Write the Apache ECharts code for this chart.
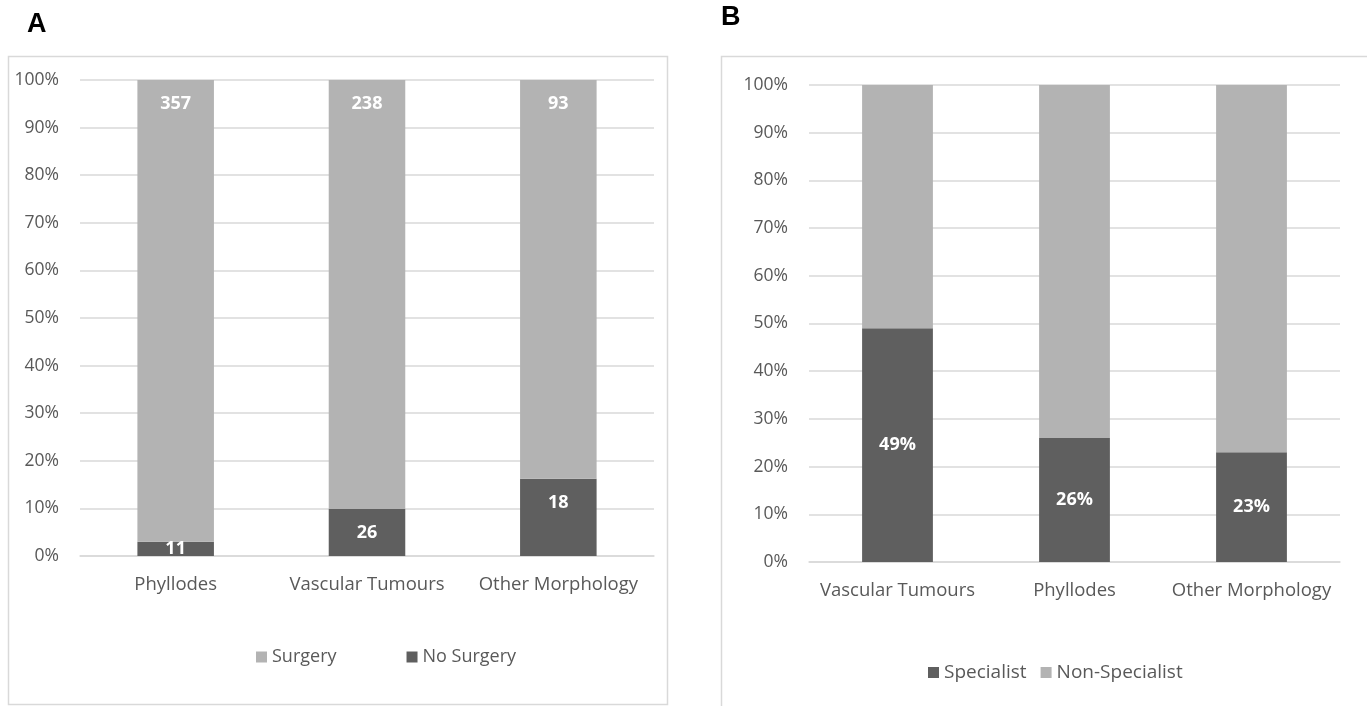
<!DOCTYPE html>
<html>
<head>
<meta charset="utf-8">
<script src="https://cdn.jsdelivr.net/npm/echarts@6/dist/echarts.min.js"></script>
<style>
  html, body { margin: 0; padding: 0; background: #fff; }
  #chart { width: 1367px; height: 706px; }
</style>
</head>
<body>
<div id="chart"></div>
<script>
// Panel A: patient counts by morphology, surgery vs no surgery
const categoriesA = ['Phyllodes', 'Vascular Tumours', 'Other Morphology'];
const surgeryCounts = [357, 238, 93];
const noSurgeryCounts = [11, 26, 18];

// Panel B: share of cases (%) treated at specialist vs non-specialist centres
const categoriesB = ['Vascular Tumours', 'Phyllodes', 'Other Morphology'];
const specialistPct = [49, 26, 23];
const nonSpecialistPct = [51, 74, 77];

const FONT = '"Open Sans", "Noto Sans", sans-serif';
const DARK = '#5f5f5f';
const LIGHT = '#b3b3b3';
const TEXT = '#595959';
const GRID = '#d9d9d9';

// 100% stacking for panel A: each segment is its count over the column total
const totalsA = surgeryCounts.map((v, i) => v + noSurgeryCounts[i]);
const shareData = (counts) => counts.map((v, i) => ({ value: v / totalsA[i] * 100, count: v }));

const noSurgeryData = shareData(noSurgeryCounts).map(d => {
  // a thin segment gets its label centred rather than hung from the top
  if (d.value < 6) d.label = { position: 'inside' };
  return d;
});

const valueAxisBase = {
  type: 'value', min: 0, max: 100, interval: 10,
  axisLine: { show: false }, axisTick: { show: false },
  splitLine: { lineStyle: { color: GRID, width: 1.5 } },
  axisLabel: { color: TEXT, fontFamily: FONT, fontSize: 17.5, margin: 21, formatter: '{value}%' }
};
const catAxisBase = {
  type: 'category',
  axisTick: { show: false },
  axisLine: { lineStyle: { color: GRID, width: 1.5 } },
  axisLabel: { color: TEXT, fontFamily: FONT, fontSize: 18.5, margin: 19, interval: 0 }
};
const barLabel = { show: true, color: '#fff', fontFamily: FONT, fontSize: 18, fontWeight: 'bold' };

const chart = echarts.init(document.getElementById('chart'), null, { renderer: 'canvas' });
chart.setOption({
  animation: false,
  backgroundColor: '#fff',
  graphic: [
    { type: 'rect', shape: { x: 8.5, y: 56.5, width: 659, height: 648 },
      style: { fill: 'none', stroke: GRID, lineWidth: 1.5 }, z: -1 },
    { type: 'rect', shape: { x: 721.5, y: 56.5, width: 700, height: 700 },
      style: { fill: 'none', stroke: GRID, lineWidth: 1.5 }, z: -1 },
    { type: 'text', left: 27, top: 11,
      style: { text: 'A', font: 'bold 27px "Liberation Sans", Arial, sans-serif', fill: '#000' } },
    { type: 'text', left: 721, top: 4,
      style: { text: 'B', font: 'bold 27px "Liberation Sans", Arial, sans-serif', fill: '#000' } }
  ],
  grid: [
    { left: 80, right: 713, top: 80, bottom: 150 },
    { left: 809, right: 27, top: 85, bottom: 144 }
  ],
  xAxis: [
    Object.assign({}, catAxisBase, { gridIndex: 0, data: categoriesA }),
    Object.assign({}, catAxisBase, { gridIndex: 1, data: categoriesB })
  ],
  yAxis: [
    Object.assign({}, valueAxisBase, { gridIndex: 0 }),
    Object.assign({}, valueAxisBase, { gridIndex: 1 })
  ],
  legend: [
    { data: ['Surgery', 'No Surgery'], left: 251, top: 643, icon: 'rect',
      itemWidth: 11, itemHeight: 11, itemGap: 70,
      textStyle: { color: TEXT, fontFamily: FONT, fontSize: 18 } },
    { data: ['Specialist', 'Non-Specialist'], left: 923, top: 658, icon: 'rect',
      itemWidth: 11, itemHeight: 11, itemGap: 14,
      textStyle: { color: TEXT, fontFamily: FONT, fontSize: 19 } }
  ],
  series: [
    { name: 'No Surgery', type: 'bar', stack: 'a', xAxisIndex: 0, yAxisIndex: 0,
      barWidth: '40%', itemStyle: { color: DARK }, data: noSurgeryData,
      label: Object.assign({}, barLabel, { position: 'insideTop', distance: 15,
        formatter: p => p.data.count }) },
    { name: 'Surgery', type: 'bar', stack: 'a', xAxisIndex: 0, yAxisIndex: 0,
      barWidth: '40%', itemStyle: { color: LIGHT }, data: shareData(surgeryCounts),
      label: Object.assign({}, barLabel, { position: 'insideTop', distance: 15,
        formatter: p => p.data.count }) },
    { name: 'Specialist', type: 'bar', stack: 'b', xAxisIndex: 1, yAxisIndex: 1,
      barWidth: '40%', itemStyle: { color: DARK }, data: specialistPct,
      label: Object.assign({}, barLabel, { position: 'inside', formatter: '{c}%' }) },
    { name: 'Non-Specialist', type: 'bar', stack: 'b', xAxisIndex: 1, yAxisIndex: 1,
      barWidth: '40%', itemStyle: { color: LIGHT }, data: nonSpecialistPct }
  ]
});
</script>
</body>
</html>
